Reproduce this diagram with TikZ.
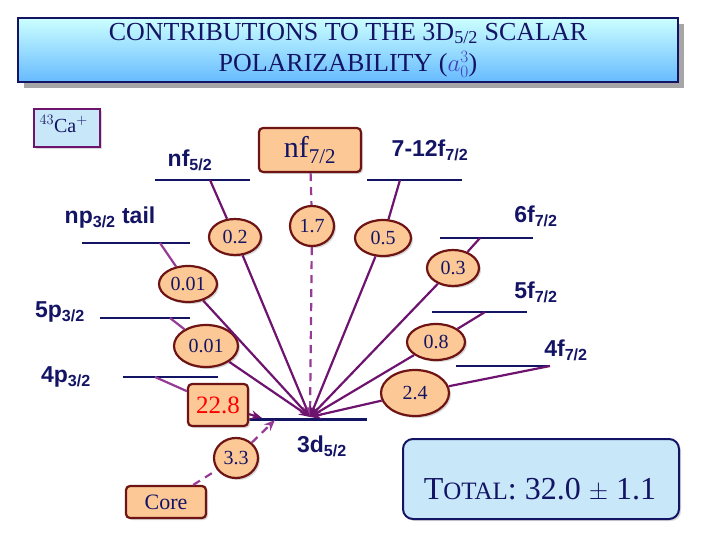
\documentclass[tikz,border=0pt]{standalone}
\usepackage{amsmath}
\usepackage{fontspec}
\setmainfont{Liberation Serif}
\newfontfamily\lsans{Liberation Sans}
\usetikzlibrary{shapes.geometric,arrows.meta,shadows}
\definecolor{navy}{RGB}{20,20,100}
\definecolor{peach}{RGB}{252,200,150}
\definecolor{brd}{RGB}{110,20,20}
\definecolor{purp}{RGB}{110,20,110}
\definecolor{lpurp}{RGB}{150,60,150}
\definecolor{lblue}{RGB}{200,232,250}
\newcommand{\sbx}[1]{$_{\text{#1}}$}
\tikzset{
 lev/.style={draw=navy,line width=1.8pt},
 lab/.style={font=\lsans\bfseries\fontsize{23}{23}\selectfont,text=navy},
 val/.style={ellipse,draw=brd,line width=2.2pt,fill=peach,font=\fontsize{20}{20}\selectfont,text=navy,inner sep=0pt,minimum width=52pt,minimum height=36pt,drop shadow={shadow xshift=2pt,shadow yshift=-2pt,fill=gray!60}},
 vbox/.style={rectangle,rounded corners=4pt,draw=brd,line width=2.2pt,fill=peach,font=\fontsize{20}{20}\selectfont,text=navy,drop shadow={shadow xshift=2pt,shadow yshift=-2pt,fill=gray!60}},
 con/.style={purp,line width=2.2pt},
 arr/.style={purp,line width=2.2pt,-{Stealth[length=11pt,width=9pt]}},
}
\begin{document}
\begin{tikzpicture}[x=1pt,y=-1pt]
\useasboundingbox (0,0) rectangle (720,540);
% title
\fill[gray!70] (24,24) rectangle (684,88);
\shade[top color=cyan!20,bottom color=blue!45!cyan!60,draw=navy,line width=1.4pt] (18,18) rectangle (678,82);
\node[text=navy,align=center,font=\fontsize{26}{31}\selectfont] (title) at (348,50) {CONTRIBUTIONS TO THE 3D\sbx{5/2} SCALAR\\POLARIZABILITY ({\color{blue!50!gray}$a_0^3$})};
\node[draw=purp,line width=1.8pt,fill=lblue,minimum width=66pt,minimum height=38pt,anchor=north west,drop shadow={shadow xshift=2pt,shadow yshift=-2pt,fill=gray!60}] (ca) at (33,108) {};
\node[anchor=north west,font=\fontsize{20}{20}\selectfont,text=navy] (catext) at (36,112) {$^{43}$Ca$^{+}$};
% levels
\coordinate (d3a) at (247,419); \coordinate (d3b) at (367,419);
\draw[line width=3pt,navy] (d3a) -- (d3b);
\coordinate (T) at (310,417);
\node[lab] (d3l) at (322,446) {3d\sbx{5/2}};
\draw[lev] (155,180) coordinate (nf5a) -- (250,180) coordinate (nf5b);
\node[lab] (nf5l) at (190,160) {nf\sbx{5/2}};
\draw[lev] (367,180) coordinate (f12a) -- (462,180) coordinate (f12b);
\node[lab] (f12l) at (430,150) {7-12f\sbx{7/2}};
\draw[lev] (82,243) coordinate (npa) -- (190,243) coordinate (npb);
\node[lab] (npl) at (110,218) {np\sbx{3/2} tail};
\draw[lev] (440,238) coordinate (f6a) -- (533,238) coordinate (f6b);
\node[lab] (f6l) at (536,216) {6f\sbx{7/2}};
\draw[lev] (432,312) coordinate (f5a) -- (527,312) coordinate (f5b);
\node[lab] (f5l) at (536,292) {5f\sbx{7/2}};
\draw[lev] (100,318) coordinate (p5a) -- (190,318) coordinate (p5b);
\node[lab] (p5l) at (60,312) {5p\sbx{3/2}};
\draw[lev] (123,377) coordinate (p4a) -- (218,377) coordinate (p4b);
\node[lab] (p4l) at (66,377) {4p\sbx{3/2}};
\draw[lev] (456,366) coordinate (f4a) -- (550,366) coordinate (f4b);
\node[lab] (f4l) at (566,350) {4f\sbx{7/2}};
\node[vbox,minimum width=102pt,minimum height=44pt,font=\fontsize{30}{30}\selectfont] (nf7) at (310,150) {nf\sbx{7/2}};
% values
\node[val] (v02) at (235,237) {0.2};
\node[val,minimum width=44pt,minimum height=40pt] (v17) at (312,226) {1.7};
\node[val,minimum width=56pt] (v05) at (383,238) {0.5};
\node[val] (v03) at (453,268) {0.3};
\node[val,minimum width=58pt] (v001a) at (188,284) {0.01};
\node[val,minimum width=64pt,minimum height=42pt] (v001b) at (206,346) {0.01};
\node[val,minimum width=58pt] (v08) at (436,342) {0.8};
\node[val,minimum width=68pt,minimum height=46pt] (v24) at (415,393) {2.4};
\node[vbox,text=red,minimum width=60pt,minimum height=42pt,font=\fontsize{25}{25}\selectfont] (v228) at (218,405) {22.8};
\node[val,minimum width=44pt,minimum height=40pt] (v33) at (236,458) {3.3};
\node[vbox,minimum width=80pt,minimum height=32pt,font=\fontsize{22}{22}\selectfont] (core) at (166,502) {Core};
% connectors
\draw[con] (210,180) -- (v02); \draw[arr] (v02) -- (T);
\draw[con,lpurp,dashed,dash pattern=on 8pt off 6pt] (nf7) -- (v17); \draw[arr,lpurp,dashed,dash pattern=on 8pt off 6pt] (v17) -- (T);
\draw[con] (400,180) -- (v05); \draw[arr] (v05) -- (T);
\draw[con] (480,238) -- (v03); \draw[arr] (v03) -- (T);
\draw[con,lpurp] (160,243) -- (v001a); \draw[arr] (v001a) -- (T);
\draw[con,lpurp] (170,318) -- (v001b); \draw[arr] (v001b) -- (T);
\draw[con] (485,312) -- (v08); \draw[arr] (v08) -- (T);
\draw[con] (550,366) -- (v24); \draw[arr] (v24) -- (T);
\draw[con,lpurp] (155,377) -- (v228); \draw[arr] (v228) -- (262,418);
\draw[con,lpurp,dashed,dash pattern=on 8pt off 6pt] (core) -- (v33); \draw[arr,lpurp,dashed,dash pattern=on 8pt off 6pt] (v33) -- (275,420);
% total
\node[rectangle,rounded corners=10pt,draw=navy,line width=2pt,fill=lblue,minimum width=276pt,minimum height=80pt,anchor=north west,drop shadow={shadow xshift=2pt,shadow yshift=-2pt,fill=gray!60}] (tot) at (402,438) {};
\node[text=navy,font=\fontsize{32}{32}\selectfont] (tott) at (540,490) {T{\fontsize{25}{25}\selectfont OTAL}: 32.0 $\pm$ 1.1};
\end{tikzpicture}
\end{document}
